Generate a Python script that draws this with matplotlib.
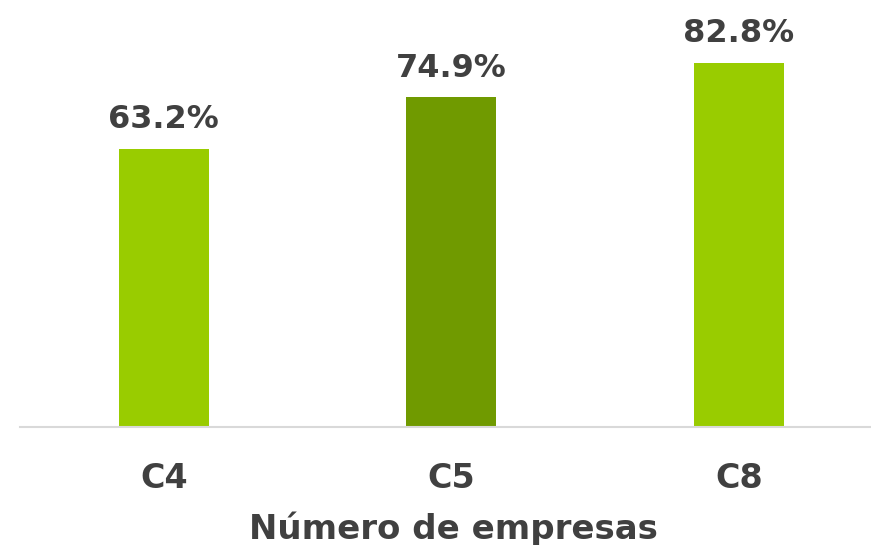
import matplotlib; matplotlib.use("Agg")
import matplotlib.pyplot as plt

categories = ["C4", "C5", "C8"]
values = [63.2, 74.9, 82.8]
colors = ["#99cc00", "#709a00", "#99cc00"]
xlabel = "Número de empresas"

TXT = "#404040"
plt.rcParams["font.family"] = ["DejaVu Sans"]

fig = plt.figure(figsize=(8.71, 5.45), dpi=100)
# axes spans from x=20px, 287.5px per category; baseline at y=427px
ax = fig.add_axes([20 / 871, 118 / 545, 862.5 / 871, 427 / 545])
x = range(len(categories))
ax.bar(x, values, width=0.313, color=colors, zorder=2)
for xi, v in zip(x, values):
    ax.annotate(f"{v:.1f}%", (xi, v), xytext=(0, 15), textcoords="offset points",
                ha="center", va="baseline", fontsize=23, fontweight="bold", color=TXT)
ax.set_xlim(-0.5, 2.5)
ax.set_ylim(0, 97.05)
ax.set_xticks(list(x))
ax.set_xticklabels(categories, fontsize=24, fontweight="bold", color=TXT)
ax.tick_params(axis="x", length=0, pad=25)
ax.set_yticks([])
for s in ["top", "right", "left"]:
    ax.spines[s].set_visible(False)
ax.spines["bottom"].set_color("#d9d9d9")
ax.spines["bottom"].set_linewidth(1.5)
ax.set_xlabel(xlabel, fontsize=24.5, fontweight="bold", color=TXT, labelpad=12)
ax.xaxis.label.set_x(433 / 862.5)
fig.savefig("out.png", dpi=100)
